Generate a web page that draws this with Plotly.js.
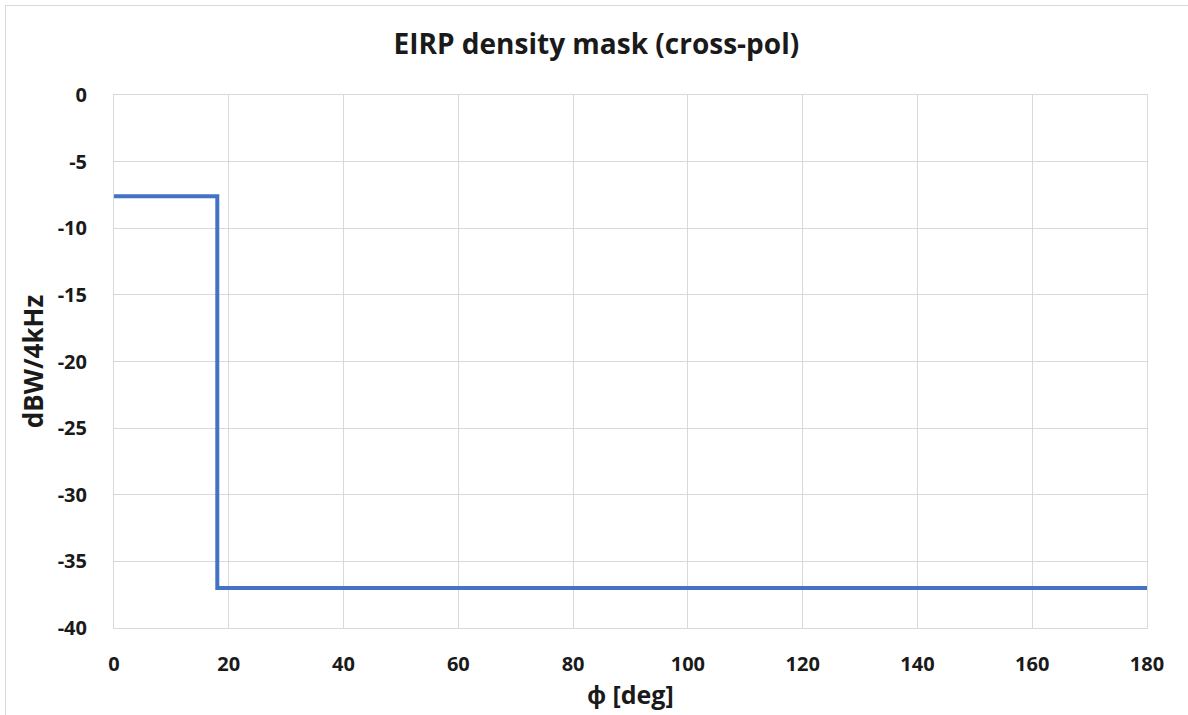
<!DOCTYPE html>
<html>
<head>
<meta charset="utf-8">
<script src="https://cdn.plot.ly/plotly-3.0.1.min.js"></script>
<style>
  html, body { margin: 0; padding: 0; background: #fff; }
  #wrap { position: relative; width: 1188px; height: 715px; overflow: hidden; }
  #frame { position: absolute; left: 5px; top: 5px; width: 1200px; height: 720px; border: 1.5px solid #d9d9d9; box-sizing: border-box; pointer-events: none; }
  #chart { position: absolute; left: 0; top: 0; width: 1188px; height: 715px; }
</style>
</head>
<body>
<div id="wrap">
  <div id="chart"></div>
  <div id="frame"></div>
</div>
<script>
const phiDeg = [0, 18, 18, 180];
const eirpDensity = [-7.6, -7.6, -37, -37];
const xTicks = [0, 20, 40, 60, 80, 100, 120, 140, 160, 180];
const yTicks = [0, -5, -10, -15, -20, -25, -30, -35, -40];

const fontFam = '"Open Sans", "Liberation Sans", sans-serif';

const trace = {
  x: phiDeg,
  y: eirpDensity,
  type: 'scatter',
  mode: 'lines',
  line: { color: '#4472C4', width: 4 },
  hoverinfo: 'x+y'
};

const layout = {
  width: 1188,
  height: 715,
  margin: { l: 114, r: 41, t: 95, b: 87 },
  paper_bgcolor: '#ffffff',
  plot_bgcolor: '#ffffff',
  showlegend: false,
  title: {
    text: '<b>EIRP density mask (cross-pol)</b>',
    font: { family: fontFam, size: 28, color: '#1a1a1a' },
    x: 0.502, xanchor: 'center',
    y: 1 - 44/715, yanchor: 'middle', yref: 'container'
  },
  xaxis: {
    range: [0, 180],
    tickvals: xTicks,
    ticktext: xTicks.map(String),
    showgrid: true, gridcolor: '#d9d9d9', gridwidth: 1,
    zeroline: false,
    showline: true, linecolor: '#d9d9d9', linewidth: 1, mirror: true,
    ticks: 'outside', ticklen: 18, tickcolor: 'rgba(0,0,0,0)',
    tickfont: { family: fontFam, size: 20, color: '#1a1a1a', weight: 'bold' },
    title: { text: '<b>ϕ [deg]</b>', font: { family: fontFam, size: 25, color: '#1a1a1a' }, standoff: 4 },
    fixedrange: true
  },
  yaxis: {
    range: [-40, 0],
    tickvals: yTicks,
    ticktext: yTicks.map(String),
    showgrid: true, gridcolor: '#d9d9d9', gridwidth: 1,
    zeroline: false,
    showline: true, linecolor: '#d9d9d9', linewidth: 1, mirror: true,
    ticks: 'outside', ticklen: 22, tickcolor: 'rgba(0,0,0,0)',
    tickfont: { family: fontFam, size: 20, color: '#1a1a1a', weight: 'bold' },
    title: { text: '<b>dBW/4kHz</b>', font: { family: fontFam, size: 26, color: '#1a1a1a' }, standoff: 6 },
    fixedrange: true
  }
};

Plotly.newPlot('chart', [trace], layout, { displayModeBar: false, staticPlot: true });
</script>
</body>
</html>
